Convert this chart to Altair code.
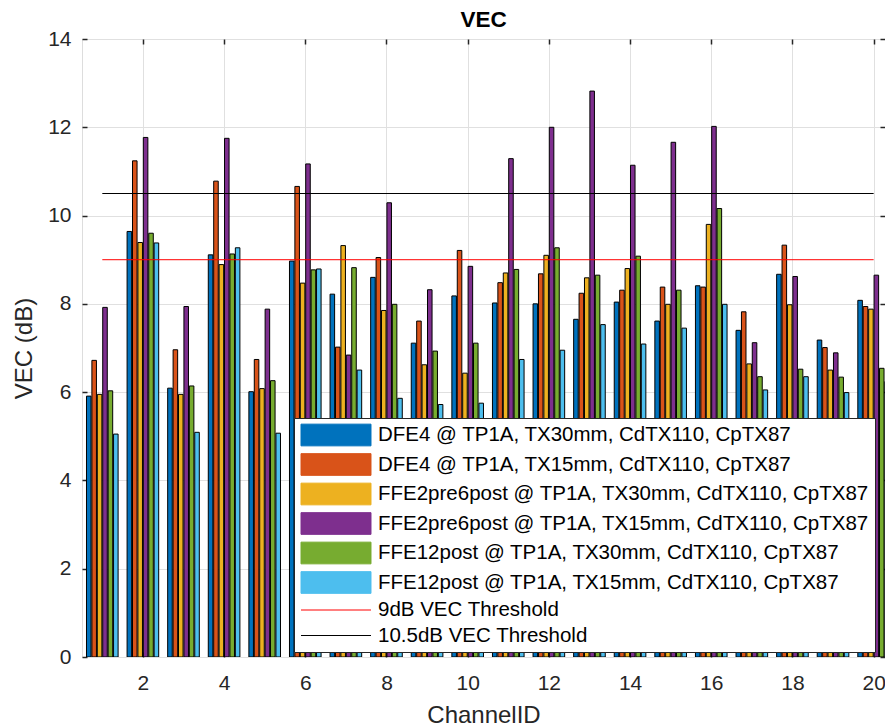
import json
import altair as alt
import pandas as pd

FONT = "Liberation Sans, Arial, sans-serif"

channels = list(range(1, 21))

series_names = [
    "DFE4 @ TP1A, TX30mm, CdTX110, CpTX87",
    "DFE4 @ TP1A, TX15mm, CdTX110, CpTX87",
    "FFE2pre6post @ TP1A, TX30mm, CdTX110, CpTX87",
    "FFE2pre6post @ TP1A, TX15mm, CdTX110, CpTX87",
    "FFE12post @ TP1A, TX30mm, CdTX110, CpTX87",
    "FFE12post @ TP1A, TX15mm, CdTX110, CpTX87",
]

dfe4_tx30 = [5.91, 9.64, 6.09, 9.11, 6.01, 8.97, 8.22, 8.60, 7.11, 8.18,
             8.02, 8.00, 7.65, 8.04, 7.61, 8.41, 7.40, 8.67, 7.18, 8.08]
dfe4_tx15 = [6.72, 11.24, 6.96, 10.78, 6.74, 10.66, 7.02, 9.05, 7.61, 9.21,
             8.48, 8.68, 8.24, 8.31, 8.38, 8.38, 7.82, 9.33, 7.01, 7.94]
ffe2pre6post_tx30 = [5.95, 9.39, 5.95, 8.89, 6.08, 8.47, 9.32, 7.85, 6.62, 6.43,
                     8.70, 9.10, 8.59, 8.80, 7.99, 9.80, 6.64, 7.98, 6.50, 7.88]
ffe2pre6post_tx15 = [7.92, 11.77, 7.94, 11.75, 7.88, 11.17, 6.84, 10.29, 8.32, 8.85,
                     11.29, 12.00, 12.82, 11.14, 11.66, 12.02, 7.12, 8.62, 6.89, 8.65]
ffe12post_tx30 = [6.03, 9.60, 6.14, 9.13, 6.26, 8.77, 8.82, 7.99, 6.93, 7.11,
                  8.78, 9.27, 8.65, 9.08, 8.31, 10.16, 6.35, 6.52, 6.34, 6.54]
ffe12post_tx15 = [5.05, 9.38, 5.09, 9.27, 5.07, 8.79, 6.50, 5.86, 5.72, 5.75,
                  6.74, 6.95, 7.53, 7.09, 7.45, 7.99, 6.05, 6.35, 5.99, 6.24]

threshold_names = ["9dB VEC Threshold", "10.5dB VEC Threshold"]
threshold_values = [9.0, 10.5]
threshold_start = [1, 1]
threshold_end = [20, 20]

series_colors = ["#0072BD", "#D95319", "#EDB120", "#7E2F8E", "#77AC30", "#4DBEEE"]
threshold_colors = ["#FF0000", "#000000"]

x_ticks = [2, 4, 6, 8, 10, 12, 14, 16, 18, 20]
y_ticks = [0, 2, 4, 6, 8, 10, 12, 14]

all_series = [dfe4_tx30, dfe4_tx15, ffe2pre6post_tx30, ffe2pre6post_tx15,
              ffe12post_tx30, ffe12post_tx15]

rows = []
for name, vals in zip(series_names, all_series):
    for ch, v in zip(channels, vals):
        rows.append({"channel": ch, "series": name, "value": v})
bars_df = pd.DataFrame(rows)

thr_df = pd.DataFrame({
    "series": threshold_names,
    "value": threshold_values,
    "start": threshold_start,
    "end": threshold_end,
})

W, H = 803, 618
AX = "#262626"
GRID = "#e0e0e0"

xscale = alt.Scale(domain=[0.5, 20.28], nice=False, zero=False)
yscale = alt.Scale(domain=[0, 14], nice=False, zero=False)
cscale = alt.Scale(domain=series_names + threshold_names,
                   range=series_colors + threshold_colors)

is_thr = "test(/Threshold/, datum.value)"
legend = alt.Legend(
    title=None, orient="none", legendX=212, legendY=379,
    fillColor="white", strokeColor=AX, padding=6,
    labelFont=FONT, labelFontSize=20.5, labelColor="black", labelLimit=800,
    symbolSize=441, symbolOffset=25, labelOffset=31, rowPadding=3.5,
    symbolStrokeWidth=1, symbolOpacity=1,
    symbolType={"expr": is_thr + " ? 'M-3.333,0H3.333' : 'M-3.333,-1.033H3.333V1.033H-3.333Z'"},
    symbolStrokeColor={"expr": is_thr + " ? scale('color', datum.value) : 'black'"},
)

slot = 0.8 / 6
idx_expr = "indexof(" + json.dumps(series_names) + ", datum.series)"

bars = alt.Chart(bars_df).transform_calculate(
    k=idx_expr
).transform_calculate(
    x0=f"datum.channel - 0.4 + {slot} * (datum.k + 0.08)",
    x1=f"datum.channel - 0.4 + {slot} * (datum.k + 0.92)",
).mark_bar(stroke="black", strokeWidth=1, clip=True, opacity=1).encode(
    x=alt.X("x0:Q", scale=xscale, axis=alt.Axis(
        values=x_ticks, format="d", grid=True, gridColor=GRID, gridWidth=1,
        ticks=False, tickSize=0, domain=False,
        labelFont=FONT, labelFontSize=21, labelColor=AX, labelPadding=15.5,
        title="ChannelID", titleFont=FONT, titleFontSize=24,
        titleFontWeight="normal", titleColor=AX, titlePadding=10)),
    x2="x1:Q",
    y=alt.Y("value:Q", scale=yscale, axis=alt.Axis(
        values=y_ticks, format="d", grid=True, gridColor=GRID, gridWidth=1,
        ticks=False, tickSize=0, domain=False,
        labelFont=FONT, labelFontSize=21, labelColor=AX, labelPadding=11,
        title="VEC (dB)", titleFont=FONT, titleFontSize=24,
        titleFontWeight="normal", titleColor=AX, titlePadding=11)),
    y2=alt.datum(0),
    color=alt.Color("series:N", scale=cscale, legend=legend),
)

rules = alt.Chart(thr_df).mark_rule(strokeWidth=1).encode(
    x=alt.X("start:Q", scale=xscale, axis=alt.Axis(
        orient="top", offset=-H, values=x_ticks, labels=False, ticks=True,
        tickSize=5, tickWidth=1.5, tickColor=AX, domain=False, grid=False, title=None)),
    x2="end:Q",
    y=alt.Y("value:Q", scale=yscale, axis=alt.Axis(
        orient="right", offset=-W, values=y_ticks, labels=False, ticks=True,
        tickSize=5, tickWidth=1.5, tickColor=AX, domain=False, grid=False, title=None)),
    color=alt.Color("series:N", scale=cscale, legend=None),
)

edge_ticks = alt.Chart(thr_df).mark_point(opacity=0).encode(
    x=alt.X("start:Q", scale=xscale, axis=alt.Axis(
        orient="bottom", offset=-H, values=x_ticks, labels=False, ticks=True,
        tickSize=5, tickWidth=1.5, tickColor=AX, domain=False, grid=False, title=None)),
    y=alt.Y("value:Q", scale=yscale, axis=alt.Axis(
        orient="left", offset=-W, values=y_ticks, labels=False, ticks=True,
        tickSize=5, tickWidth=1.5, tickColor=AX, domain=False, grid=False, title=None)),
)

chart = alt.layer(bars, rules, edge_ticks).resolve_axis(
    x="independent", y="independent"
).properties(
    width=W, height=H,
    autosize=alt.AutoSizeParams(type="none"),
    padding={"left": 82, "top": 39, "right": 0, "bottom": 70},
    title=alt.TitleParams("VEC", font=FONT, fontSize=22.5, fontWeight="bold",
                          color="black", anchor="middle", frame="group",
                          baseline="alphabetic", offset=-21.5),
).configure_view(
    stroke=AX, strokeWidth=1.5
).configure(background="white")

chart.save("out.html", embed_options={"renderer": "svg", "actions": False})
